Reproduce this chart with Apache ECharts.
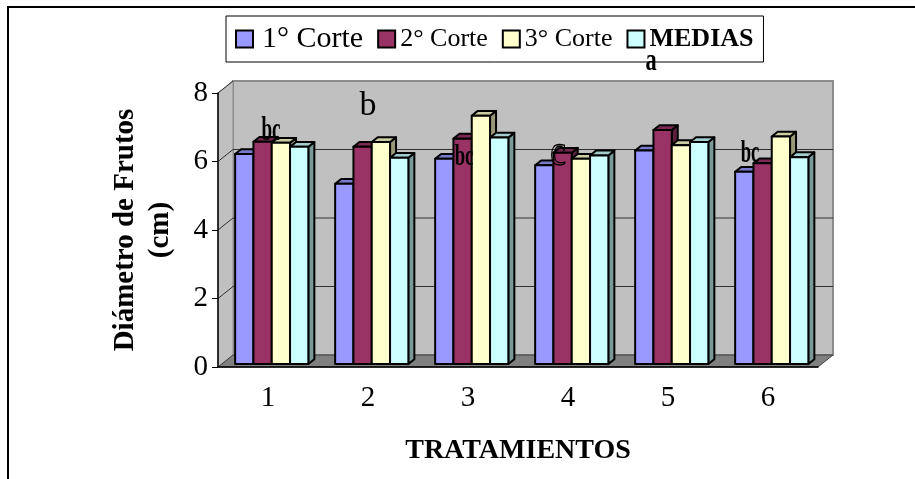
<!DOCTYPE html>
<html>
<head>
<meta charset="utf-8">
<script src="https://cdn.jsdelivr.net/npm/echarts@6/dist/echarts.min.js"></script>
<style>
  html, body { margin: 0; padding: 0; background: #fff; }
  #grafico { width: 915px; height: 479px; }
</style>
</head>
<body>
<div id="grafico"></div>
<script>
// datos
var tratamientos = ['1', '2', '3', '4', '5', '6'];
var corte1 = [6.13, 5.26, 5.99, 5.80, 6.23, 5.61];
var corte2 = [6.49, 6.34, 6.58, 6.17, 6.83, 5.86];
var corte3 = [6.46, 6.48, 7.25, 5.99, 6.39, 6.64];
var medias = [6.34, 6.02, 6.61, 6.09, 6.48, 6.04];
var nombres = ['1° Corte', '2° Corte', '3° Corte', 'MEDIAS'];
var letras = ['bc', 'b', 'bc', 'c', 'a', 'bc'];
var letrasY = [6.89, 7.62, 6.13, 6.25, 8.9, 6.22];

// estilo / colocacion de las letras (no son datos)
var letrasEstilo = [
  { dx: 0.03, size: 33, sx: 0.58, bold: true },
  { dx: 0.0, size: 34, sx: 1.0 },
  { dx: -0.04, size: 30, sx: 0.62, bold: true },
  { dx: -0.1, size: 44, sx: 0.8, hueca: true },
  { dx: -0.17, size: 32, sx: 0.7, bold: true },
  { dx: -0.18, size: 32, sx: 0.58, bold: true }
];

var colores = [
  { front: '#9999ff', top: '#7a7acc', side: '#5c5c99' },
  { front: '#993366', top: '#7a2952', side: '#5c1f3d' },
  { front: '#ffffcc', top: '#cccca3', side: '#99997a' },
  { front: '#ccffff', top: '#a3cccc', side: '#7a9999' }
];

var fuente = '"Liberation Serif", "Times New Roman", serif';
var prof = { dx: 15, dy: -12 };

var grafico = echarts.init(document.getElementById('grafico'));

function renderParedes(params, api) {
  var cs = params.coordSys;
  var L = cs.x, R = cs.x + cs.width, T = cs.y, B = cs.y + cs.height;
  var dx = prof.dx, dy = prof.dy;
  var hijos = [
    { type: 'rect', shape: { x: L + dx, y: T + dy, width: cs.width, height: cs.height },
      style: { fill: '#c0c0c0', stroke: '#8c8c8c', lineWidth: 2 } },
    { type: 'polygon', shape: { points: [[L, B], [L, T], [L + dx, T + dy], [L + dx, B + dy]] },
      style: { fill: '#c0c0c0', stroke: '#8c8c8c', lineWidth: 1 } },
    { type: 'polygon', shape: { points: [[L, B], [R, B], [R + dx, B + dy], [L + dx, B + dy]] },
      style: { fill: '#808080', stroke: '#404040', lineWidth: 1 } }
  ];
  [2, 4, 6].forEach(function (v) {
    var y = api.coord([0, v])[1];
    hijos.push({ type: 'line', shape: { x1: L + dx, y1: y + dy, x2: R + dx, y2: y + dy },
      style: { stroke: '#303030', lineWidth: 1 } });
  });
  [2, 4, 6, 8].forEach(function (v) {
    var y = api.coord([0, v])[1];
    hijos.push({ type: 'line', shape: { x1: L, y1: y, x2: L + dx, y2: y + dy },
      style: { stroke: '#303030', lineWidth: 1 } });
  });
  return { type: 'group', children: hijos };
}

function renderBarra(s) {
  return function (params, api) {
    var idx = api.value(0);
    var arriba = api.coord([idx, api.value(1)]);
    var base = api.coord([idx, 0]);
    var banda = api.size([1, 0])[0];
    var w = banda * 0.183;
    var ox = prof.dx * 0.25, oy = prof.dy * 0.25;
    var x0 = arriba[0] - 2 * w + s * w + ox;
    var yT = arriba[1] + oy, yB = base[1] + oy;
    var ddx = prof.dx * 0.4, ddy = prof.dy * 0.4;
    var c = colores[s];
    var borde = { stroke: '#000', lineWidth: 2, lineJoin: 'round' };
    return {
      type: 'group',
      children: [
        { type: 'polygon', shape: { points: [[x0 + w, yT], [x0 + w + ddx, yT + ddy], [x0 + w + ddx, yB + ddy], [x0 + w, yB]] },
          style: Object.assign({ fill: c.side }, borde) },
        { type: 'polygon', shape: { points: [[x0, yT], [x0 + ddx, yT + ddy], [x0 + w + ddx, yT + ddy], [x0 + w, yT]] },
          style: Object.assign({ fill: c.top }, borde) },
        { type: 'rect', shape: { x: x0, y: yT, width: w, height: yB - yT },
          style: Object.assign({ fill: c.front }, borde) }
      ]
    };
  };
}

function renderLetra(params, api) {
  var i = api.value(0);
  var e = letrasEstilo[i];
  var p = api.coord([i, api.value(1)]);
  var banda = api.size([1, 0])[0];
  return {
    type: 'text',
    x: p[0] + e.dx * banda,
    y: p[1],
    scaleX: e.sx,
    style: {
      text: letras[i],
      font: (e.bold ? 'bold ' : '') + e.size + 'px ' + fuente,
      fill: e.hueca ? 'rgba(0,0,0,0)' : '#000',
      stroke: e.hueca ? '#000' : null,
      lineWidth: e.hueca ? 1.4 : 0,
      align: 'center',
      verticalAlign: 'middle'
    }
  };
}

var series = [
  {
    name: 'paredes',
    type: 'custom',
    z: -5,
    silent: true,
    clip: false,
    renderItem: renderParedes,
    data: [[0, 0]]
  }
];

[corte1, corte2, corte3, medias].forEach(function (serie, s) {
  series.push({
    name: nombres[s],
    type: 'custom',
    z: 2 + s,
    clip: false,
    itemStyle: { color: colores[s].front },
    renderItem: renderBarra(s),
    data: serie.map(function (v, i) { return [i, v]; })
  });
});

series.push({
  name: 'letras',
  type: 'custom',
  z: 10,
  silent: true,
  clip: false,
  renderItem: renderLetra,
  data: letras.map(function (l, i) { return [i, letrasY[i]]; })
});

var option = {
  animation: false,
  textStyle: { fontFamily: fuente },
  graphic: [
    { type: 'polyline', z: 100,
      shape: { points: [[8, 479], [8, 7], [915, 7]] },
      style: { stroke: '#000', lineWidth: 2, fill: null } }
  ],
  legend: {
    left: 226,
    top: 16,
    selectedMode: false,
    borderColor: '#000',
    borderWidth: 1,
    padding: [8, 10, 8, 9],
    itemGap: 14,
    itemWidth: 17,
    itemHeight: 17,
    icon: 'rect',
    data: nombres.map(function (n, s) {
      return { name: n, itemStyle: { color: colores[s].front, borderColor: '#000', borderWidth: 2 } };
    }),
    formatter: function (n) {
      if (n === '1° Corte') return '{a|' + n + '}';
      if (n === 'MEDIAS') return '{m|' + n + '}';
      return '{b|' + n + '}';
    },
    textStyle: {
      fontFamily: fuente,
      color: '#000',
      rich: {
        a: { fontFamily: fuente, fontSize: 30, color: '#000', padding: [0, 0, 0, 4] },
        b: { fontFamily: fuente, fontSize: 26, color: '#000' },
        m: { fontFamily: fuente, fontSize: 26, fontWeight: 'bold', color: '#000' }
      }
    }
  },
  grid: {
    left: 218,
    right: 97,
    top: 93,
    bottom: 112,
    containLabel: false
  },
  xAxis: {
    type: 'category',
    data: tratamientos,
    z: 5,
    name: 'TRATAMIENTOS',
    nameLocation: 'middle',
    nameGap: 70,
    nameTextStyle: { fontFamily: fuente, fontSize: 28, fontWeight: 'bold', color: '#000' },
    axisLine: { lineStyle: { color: '#000', width: 1.5 } },
    axisTick: { length: 6, lineStyle: { color: '#000' } },
    axisLabel: { margin: 17, fontFamily: fuente, fontSize: 29, color: '#000' },
    splitLine: { show: false }
  },
  yAxis: {
    type: 'value',
    min: 0,
    max: 8,
    interval: 2,
    z: 5,
    name: 'Diámetro de Frutos\n(cm)',
    nameLocation: 'middle',
    nameGap: 40,
    nameTextStyle: { fontFamily: fuente, fontSize: 29, fontWeight: 'bold', color: '#000', lineHeight: 35 },
    axisLine: { show: true, lineStyle: { color: '#000', width: 1.5 } },
    axisTick: { show: true, length: 6, lineStyle: { color: '#000' } },
    axisLabel: { margin: 10, fontFamily: fuente, fontSize: 29, color: '#000' },
    splitLine: { show: false }
  },
  series: series
};

grafico.setOption(option);
</script>
</body>
</html>
